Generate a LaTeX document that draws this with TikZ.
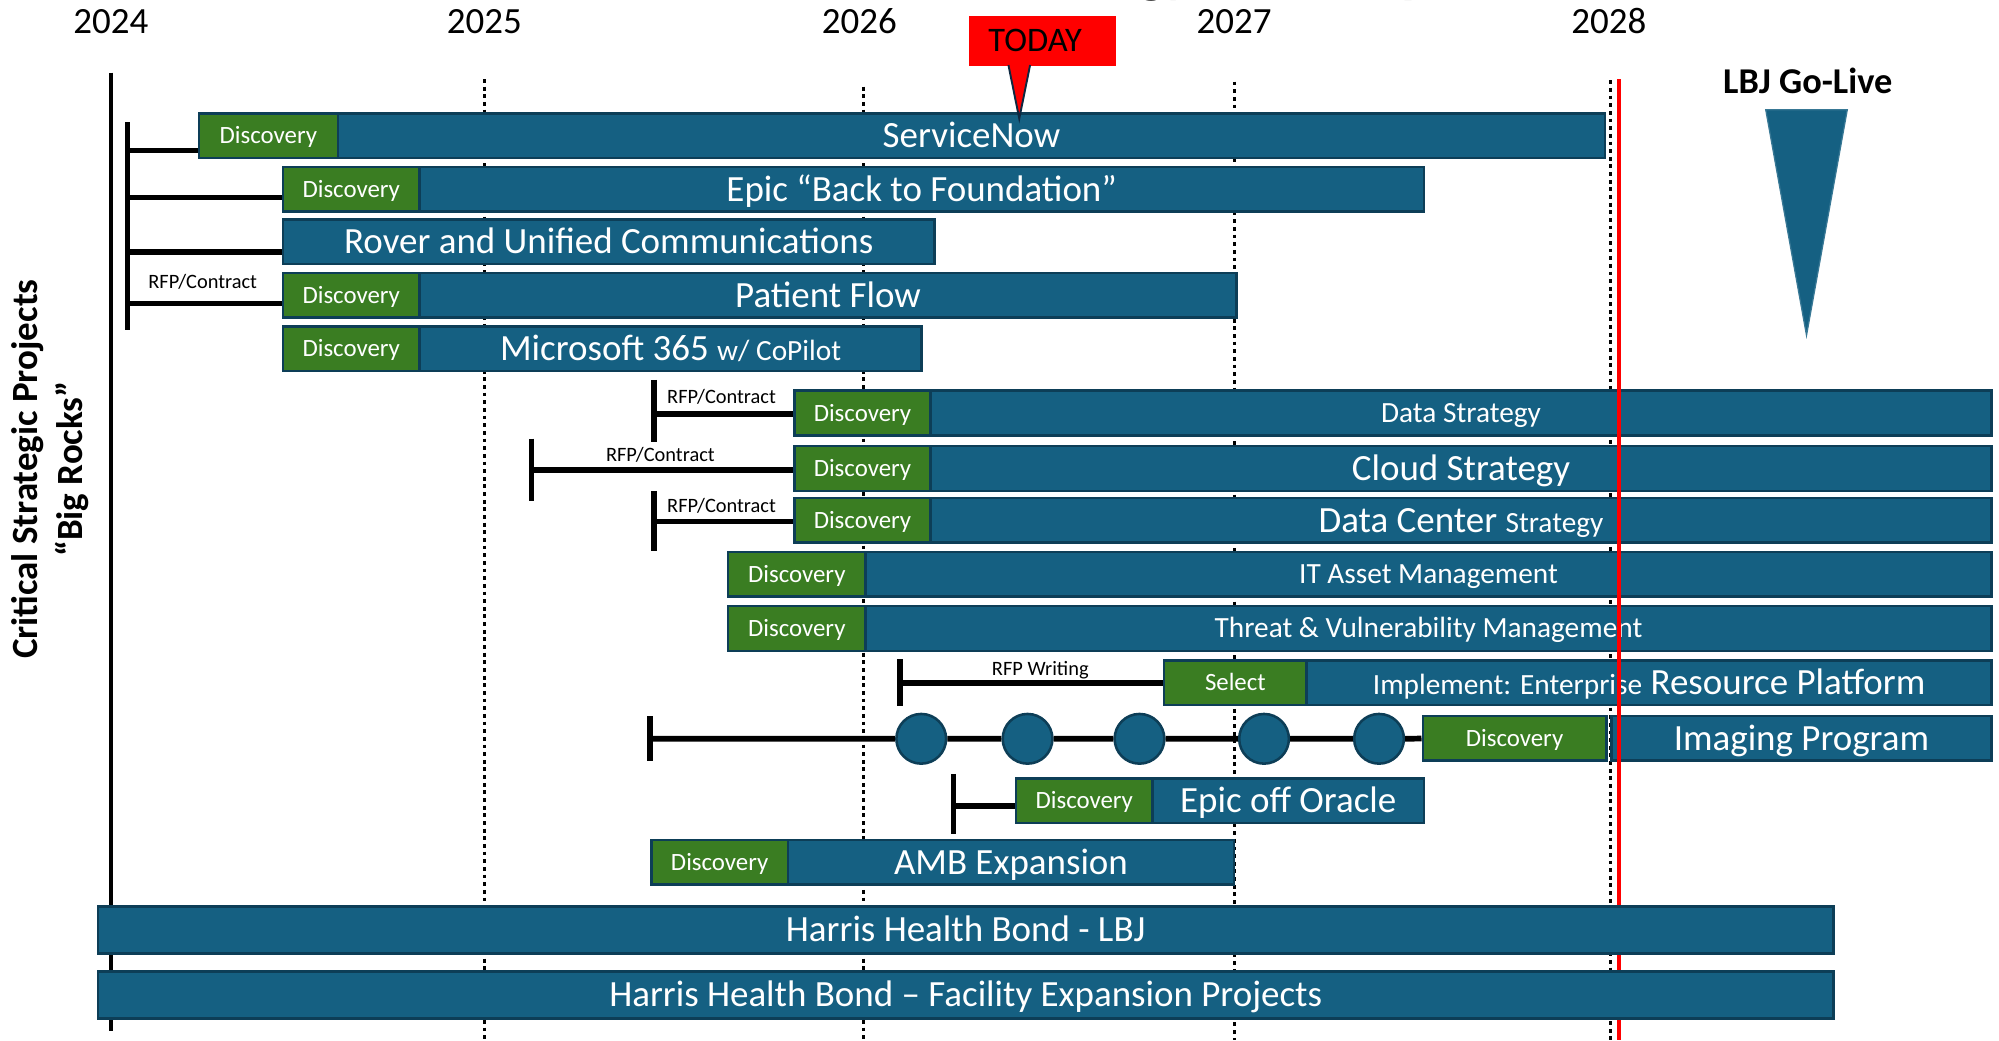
\documentclass[tikz,border=0pt]{standalone}
\usepackage{fontspec}
\setmainfont{Carlito}
\usetikzlibrary{calc}
\definecolor{barblue}{HTML}{156082}
\definecolor{barline}{HTML}{0D3E57}
\definecolor{discgreen}{HTML}{3A7D22}
\definecolor{navy}{HTML}{0E2841}
\newcommand\fbig{\fontsize{29}{34}\selectfont}
\newcommand\fmid{\fontsize{23}{28}\selectfont}
\newcommand\fdisc{\fontsize{19.5}{23}\selectfont}
\newcommand\fnote{\fontsize{16}{19}\selectfont}

\begin{document}
\begin{tikzpicture}[x=1pt,y=-1pt,
  bar/.style={draw=barline, fill=barblue, line width=2pt, text=white, inner sep=0pt,
    minimum height=35pt, anchor=west, font=\fbig, text height=18.7pt, text depth=0pt},
  midbar/.style={bar, font=\fmid, text height=14.8pt},
  disc/.style={bar, fill=discgreen, font=\fdisc, text height=12.6pt},
  conn/.style={line width=4.5pt},
  axisline/.style={line width=3pt},
  yearline/.style={line width=2.5pt, dash pattern=on 3pt off 3pt},
  year/.style={font=\fbig, text height=18.3pt, text depth=0pt, inner sep=0pt},
  note/.style={font=\fnote, inner sep=0pt, text height=10.3pt, text depth=0pt},
  mile/.style={circle, draw=barline, fill=barblue, line width=2pt, minimum size=39pt, inner sep=0pt},
]
\useasboundingbox (0,0) rectangle (1568,816);

% heading, mostly above the page edge
\begin{scope}
  \clip (0,0) rectangle (1568,816);
  \node[font=\fontsize{45}{50}\selectfont\bfseries, anchor=base west, inner sep=0pt]
    (title) at (492,-6.5) {Information Technology Roadmap};
\end{scope}

% year scale
\foreach \yr/\x in {2024/87, 2025/380, 2026/674, 2027/968, 2028/1262}
  \node[year] (y\yr) at (\x,17.5) {\yr};
\draw[yearline] (380,62) -- (380,816);
\draw[yearline] (677,68) -- (677,816);
\draw[yearline] (968,64) -- (968,816);
\draw[yearline] (1263,63) -- (1263,816);
\draw[axisline] (87,57) -- (87,809);

% side heading
\node[rotate=90, align=center, font=\fontsize{29}{35}\selectfont\bfseries, inner sep=0pt]
  (side) at (39.5,368) {Critical Strategic Projects\\“Big Rocks”};

% 2024 programmes
\node[disc, minimum width=109] (snd) at (155,106.5) {Discovery};
\node[bar, minimum width=994] (sn) at (264,106.5) {ServiceNow};
\node[disc, minimum width=107] (epd) at (221,148.5) {Discovery};
\node[bar, minimum width=788] (ep) at (328,148.5) {Epic “Back to Foundation”};
\node[bar, minimum width=511] (rv) at (221,189.5) {Rover and Unified Communications};
\node[disc, minimum width=107] (pfd) at (221,231.5) {Discovery};
\node[bar, minimum width=641] (pf) at (328,231.5) {Patient Flow};
\node[disc, minimum width=107] (msd) at (221,273.5) {Discovery};
\node[bar, minimum width=394] (ms) at (328,273.5) {Microsoft 365 {\fmid w/ CoPilot}};

\coordinate (c1) at (100,118);
\coordinate (c2) at (100,155);
\coordinate (c3) at (100,197.5);
\coordinate (c4) at (100,238);
\draw[conn] (100,96) -- (100,259);
\draw[conn] (c1) -- (c1 -| snd.west);
\draw[conn] (c2) -- (c2 -| epd.west);
\draw[conn] (c3) -- (c3 -| rv.west);
\draw[conn] (c4) -- (c4 -| pfd.west);
\node[note] (rfp1) at (159,221) {RFP/Contract};

% strategies
\node[disc, minimum width=107] (dsd) at (622,324) {Discovery};
\node[midbar, minimum width=832] (ds) at (729,324) {Data Strategy};
\node[disc, minimum width=107] (csd) at (622,367.5) {Discovery};
\node[bar, minimum width=832] (cs) at (729,367.5) {Cloud Strategy};
\node[disc, minimum width=107] (dcd) at (622,408) {Discovery};
\node[bar, minimum width=832] (dc) at (729,408) {Data Center {\fmid Strategy}};
\node[disc, minimum width=108] (itd) at (570,450.5) {Discovery};
\node[midbar, minimum width=883] (it) at (678,450.5) {IT Asset Management};
\node[disc, minimum width=108] (tvd) at (570,493) {Discovery};
\node[midbar, minimum width=883] (tv) at (678,493) {Threat \& Vulnerability Management};

\coordinate (k1) at (513,325);
\draw[conn] (513,298) -- (513,347);
\draw[conn] (k1) -- (k1 -| dsd.west);
\node[note] (rfp2) at (566,311) {RFP/Contract};
\coordinate (k2) at (417,368.5);
\draw[conn] (417,344) -- (417,393);
\draw[conn] (k2) -- (k2 -| csd.west);
\node[note] (rfp3) at (518,357) {RFP/Contract};
\coordinate (k3) at (513,409);
\draw[conn] (513,385) -- (513,432);
\draw[conn] (k3) -- (k3 -| dcd.west);
\node[note] (rfp4) at (566,397) {RFP/Contract};

% ERP
\node[disc, minimum width=112] (erps) at (912,535.5) {Select};
\node[bar, minimum width=537] (erp) at (1024,535.5) {{\fmid Implement: Enterprise} Resource Platform};
\coordinate (k4) at (706,536);
\draw[conn] (706,517) -- (706,554);
\draw[conn] (k4) -- (k4 -| erps.west);
\node[note] (rfpw) at (816,525) {RFP Writing};

% imaging
\node[disc, minimum width=144] (imd) at (1115,579) {Discovery};
\node[bar, minimum width=298] (im) at (1263,579) {Imaging Program};
\foreach \i/\x in {1/722.6, 2/806, 3/893.8, 4/991.5, 5/1081.7}
  \node[mile] (m\i) at (\x,579.5) {};
\coordinate (imk) at (510,579.5);
\draw[conn] (510,562) -- (510,597);
\draw[conn] (imk) -- (m1) -- (m2) -- (m3) -- (m4) -- (m5) -- (imd);

% Epic off Oracle, AMB
\node[disc, minimum width=107] (eod) at (796,628) {Discovery};
\node[bar, minimum width=213] (eo) at (903,628) {Epic off Oracle};
\coordinate (k5) at (748,632);
\draw[conn] (748,607) -- (748,654);
\draw[conn] (k5) -- (k5 -| eod.west);
\node[disc, minimum width=107] (amd) at (510,676.5) {Discovery};
\node[bar, minimum width=350] (am) at (617,676.5) {AMB Expansion};

% go-live marker line
\draw[line width=3pt, red] (1270,62) -- (1270,816);

% bond programmes
\node[bar, minimum width=1361, minimum height=37] (lbj) at (76,729.5) {Harris Health Bond - LBJ};
\node[bar, minimum width=1361, minimum height=37] (fe) at (76,780.5) {Harris Health Bond – Facility Expansion Projects};

% today callout
\node[fill=red, minimum width=115, minimum height=39.5, anchor=north west, inner sep=0pt] (today) at (760,12) {};
\node[font=\fontsize{27}{30}\selectfont, inner sep=0pt, text height=17.4pt, text depth=0pt] (todaytxt) at (812,31.5) {TODAY};
\coordinate (tl) at (791,51);
\coordinate (tr) at (808,51);
\coordinate (tip) at (799.5,93);
\fill[red] (tl) -- (tip) -- (tr) -- cycle;
\draw[navy, line width=1.5pt, line join=miter] (tl) -- (tip) -- (tr);

% LBJ go-live
\node[font=\fontsize{28.5}{32}\selectfont\bfseries, anchor=base, inner sep=0pt] (golive) at (1418,73) {LBJ Go-Live};
\filldraw[fill=barblue, draw=barblue!85!white, line width=1pt] (1385,86) -- (1449,86) -- (1417,263) -- cycle;
\end{tikzpicture}
\end{document}
